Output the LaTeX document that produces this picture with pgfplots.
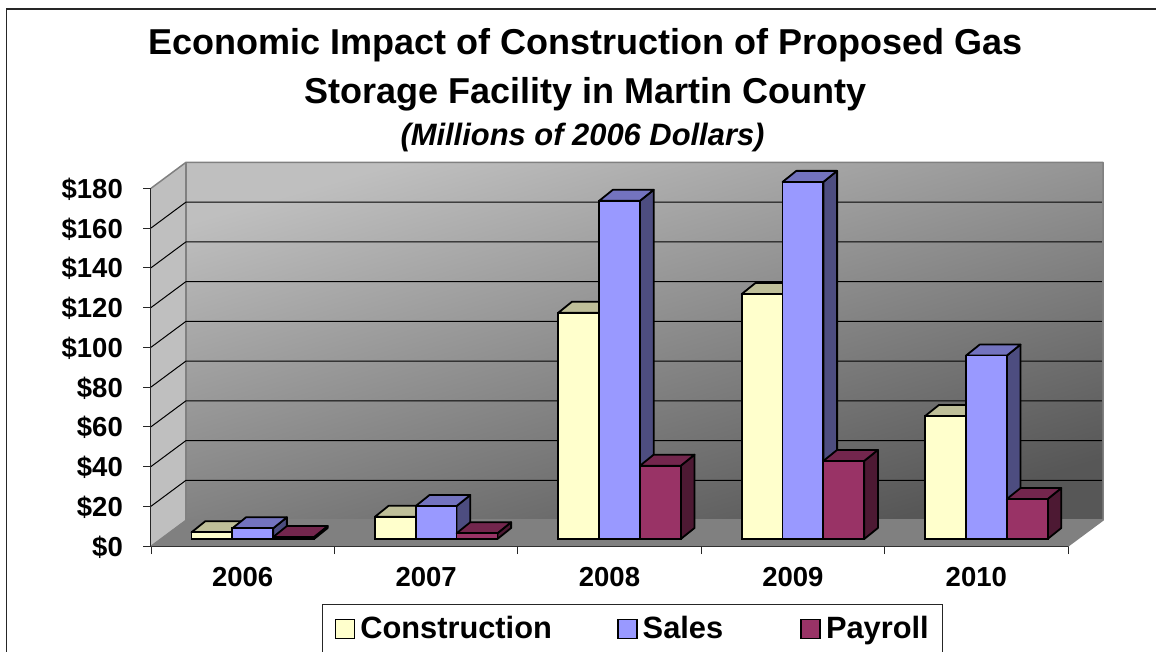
\documentclass[border=0pt]{standalone}
\usepackage{pgfplots}
\usepackage{pgfplotstable}
\pgfplotsset{compat=1.18}
\usepackage{fontspec}
\setmainfont{Liberation Sans}

\definecolor{conF}{HTML}{FFFFCC}
\definecolor{conT}{HTML}{BFBF99}
\definecolor{conS}{HTML}{808066}
\definecolor{salF}{HTML}{9999FF}
\definecolor{salT}{HTML}{7373BF}
\definecolor{salS}{HTML}{4D4D80}
\definecolor{payF}{HTML}{993366}
\definecolor{payT}{HTML}{73264D}
\definecolor{payS}{HTML}{4D1933}

% Millions of 2006 dollars
\pgfplotstableread{
year con sales pay
2006 3.4 5.4 1.0
2007 11.2 16.6 2.9
2008 113.9 170.2 36.9
2009 123.3 179.7 39.3
2010 61.9 92.3 20.1
}\impact

% bar depth in axis units
\def\barw{0.2225}
\def\ddx{0.0747}
\def\ddy{5.54}

% side and top face of one series: column, shift, top colour, side colour
\newcommand{\depthfaces}[4]{%
  \pgfplotsinvokeforeach{0,...,4}{%
    \pgfplotstablegetelem{##1}{#1}\of\impact
    \let\val\pgfplotsretval
    \pgfmathsetmacro\xa{2006+##1+(#2)-\barw/2}
    \pgfmathsetmacro\xb{\xa+\barw}
    \pgfmathsetmacro\xc{\xb+\ddx}
    \pgfmathsetmacro\xd{\xa+\ddx}
    \pgfmathsetmacro\yt{\val+\ddy}
    \addplot[forget plot,draw=black,line width=1.8pt,line join=round,fill=#4]
      coordinates {(\xb,0) (\xc,\ddy) (\xc,\yt) (\xb,\val)} --cycle;
    \addplot[forget plot,draw=black,line width=1.8pt,line join=round,fill=#3]
      coordinates {(\xa,\val) (\xb,\val) (\xc,\yt) (\xd,\yt)} --cycle;
  }%
}

\begin{document}
\begin{tikzpicture}[x=1pt,y=1pt]
\clip (0,0) rectangle (1156,-651);
\fill[white] (0,0) rectangle (1156,-651);
\draw[line width=1.2pt,draw=black!85] (6.5,-9) rectangle (1170,-700);

\node[font=\bfseries\fontsize{36}{40}\selectfont,anchor=base] at (585.5,-54) {Economic Impact of Construction of Proposed Gas};
\node[font=\bfseries\fontsize{36}{40}\selectfont,anchor=base] at (585.5,-103) {Storage Facility in Martin County};
\node[font=\bfseries\itshape\fontsize{30.9}{32}\selectfont,anchor=base] at (582.5,-145) {(Millions of 2006 Dollars)};

\begin{axis}[
  at={(151pt,-546pt)},
  anchor=south west,
  scale only axis,
  width=917pt,
  height=357.7pt,
  clip=false,
  xmin=2005.445, xmax=2010.445,
  ymin=-3.52, ymax=176.48,
  axis lines=left,
  axis line style={-,line width=1.2pt,draw=black!85},
  tick style={line width=1pt,draw=black!85},
  tick align=outside,
  major tick length=8pt,
  minor tick length=8pt,
  xtick={2005.945,2006.945,2007.945,2008.945,2009.945},
  xticklabels={2006,2007,2008,2009,2010},
  x tick style={draw=none},
  minor xtick={2005.445,2006.445,2007.445,2008.445,2009.445,2010.445},
  minor x tick style={draw=black!85,line width=1pt},
  ytick={-3.52,16.48,36.48,56.48,76.48,96.48,116.48,136.48,156.48,176.48},
  yticklabels={\$0,\$20,\$40,\$60,\$80,\$100,\$120,\$140,\$160,\$180},
  tick label style={font=\bfseries\fontsize{27.5}{28}\selectfont},
  yticklabel style={inner sep=0pt,xshift=-20pt,yshift=-1pt},
  xticklabel style={inner sep=0pt,yshift=-13pt},
  legend columns=3,
  legend cell align=left,
  legend style={at={(171pt,-58pt)},anchor=north west,draw=black!85,line width=1pt,
    font=\bfseries\fontsize{30.8}{32}\selectfont,inner xsep=12pt,inner ysep=10pt,
    /tikz/every odd column/.append style={column sep=3pt},
    /tikz/column 2/.style={column sep=63pt},
    /tikz/column 4/.style={column sep=75pt}},
  legend image code/.code={\draw[#1,line width=1.8pt] (0,-10pt) rectangle (19pt,9pt);},
]
% left wall, floor, back wall
\fill[black!25] (axis cs:2005.445,-3.52) -- (axis cs:2005.636,9.56) -- (axis cs:2005.636,189.56) -- (axis cs:2005.445,176.48) -- cycle;
\fill[black!50] (axis cs:2005.445,-3.52) -- (axis cs:2010.445,-3.52) -- (axis cs:2010.636,9.56) -- (axis cs:2005.636,9.56) -- cycle;
\shade[top color=black!25,bottom color=black!66,shading angle=16] (axis cs:2005.636,9.56) rectangle (axis cs:2010.636,189.56);
\draw[black!50,line width=1.5pt,line join=round]
  (axis cs:2005.445,176.48) -- (axis cs:2005.636,189.56) -- (axis cs:2010.636,189.56) -- (axis cs:2010.636,9.56) -- (axis cs:2010.445,-3.52);
\draw[black!50,line width=1.5pt] (axis cs:2005.636,189.56) -- (axis cs:2005.636,9.56) -- (axis cs:2010.636,9.56);
\draw[black!50,line width=1pt] (axis cs:2005.445,-3.52) -- (axis cs:2005.636,9.56);
% grid on the walls
\pgfplotsinvokeforeach{16.48,36.48,56.48,76.48,96.48,116.48,136.48,156.48}{
  \draw[black,line width=1pt] (axis cs:2005.445,#1) -- (axis cs:2005.636,#1+13.08) -- (axis cs:2010.63,#1+13.08);
}

\depthfaces{con}{-0.2225}{conT}{conS}
\addplot[ybar,bar width=0.2225,bar shift=-0.2225,draw=black,line width=1.8pt,fill=conF] table[x=year,y=con] {\impact};
\addlegendentry{Construction}
\depthfaces{sales}{0}{salT}{salS}
\addplot[ybar,bar width=0.2225,bar shift=0,draw=black,line width=1.8pt,fill=salF] table[x=year,y=sales] {\impact};
\addlegendentry{Sales}
\depthfaces{pay}{0.2225}{payT}{payS}
\addplot[ybar,bar width=0.2225,bar shift=0.2225,draw=black,line width=1.8pt,fill=payF] table[x=year,y=pay] {\impact};
\addlegendentry{Payroll}
\end{axis}
\end{tikzpicture}
\end{document}
